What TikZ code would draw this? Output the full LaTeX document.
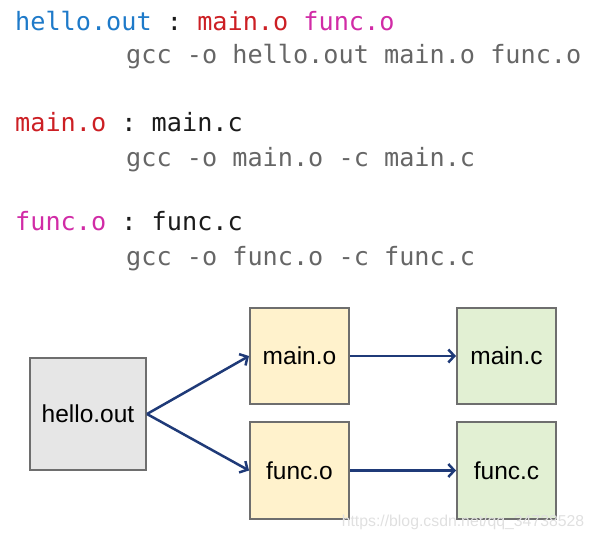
\documentclass[tikz,border=0pt]{standalone}
\usepackage{fontspec}
\setmainfont{Liberation Sans}
\newfontfamily\codefont{DejaVu Sans Mono}
\usetikzlibrary{arrows.meta}
\frenchspacing
\definecolor{cblue}{HTML}{1E7AC9}
\definecolor{cred}{HTML}{CC1F24}
\definecolor{cmag}{HTML}{D12BA6}
\definecolor{cgray}{HTML}{666666}
\definecolor{ctext}{HTML}{1A1A1A}
\definecolor{boxgray}{HTML}{E6E6E6}
\definecolor{boxyellow}{HTML}{FFF2CC}
\definecolor{boxgreen}{HTML}{E2F0D3}
\definecolor{boxline}{HTML}{6E6E6E}
\definecolor{arrowc}{HTML}{1F3A78}
\begin{document}
\begin{tikzpicture}[x=1pt,y=-1pt,
  codeline/.style={anchor=base west,inner sep=0pt,font=\codefont\fontsize{25.2}{30}\selectfont\frenchspacing,text=ctext},
  filebox/.style={draw=boxline,line width=2pt,inner sep=0pt,font=\fontsize{24.5}{29}\selectfont,text=black},
  dep/.style={draw=arrowc,line width=2.5pt,-{Straight Barb[length=6pt,width=13pt,line width=2.5pt]}},
  wm/.style={anchor=center,inner sep=0pt,font=\fontsize{15.8}{19}\selectfont,text=black!12}
]
\useasboundingbox (0,0) rectangle (594,540);
% code text
\node[codeline] (l1) at (15,31) {\textcolor{cblue}{hello.out} : \textcolor{cred}{main.o} \textcolor{cmag}{func.o}};
\node[codeline,text=cgray] (l2) at (126,64) {gcc -o hello.out main.o func.o};
\node[codeline] (l3) at (15,132) {\textcolor{cred}{main.o} : main.c};
\node[codeline,text=cgray] (l4) at (126,167) {gcc -o main.o -c main.c};
\node[codeline] (l5) at (15,230) {\textcolor{cmag}{func.o} : func.c};
\node[codeline,text=cgray] (l6) at (126,265) {gcc -o func.o -c func.c};
% boxes
\node[filebox,fill=boxgray,minimum width=116pt,minimum height=112pt] (hello) at (88,414) {hello.out};
\node[filebox,fill=boxyellow,minimum width=99pt,minimum height=96pt] (maino) at (299.5,356) {main.o};
\node[filebox,fill=boxyellow,minimum width=99pt,minimum height=97pt] (funco) at (299.5,470.5) {func.o};
\node[filebox,fill=boxgreen,minimum width=99pt,minimum height=96pt] (mainc) at (506.5,356) {main.c};
\node[filebox,fill=boxgreen,minimum width=99pt,minimum height=97pt] (funcc) at (506.5,470.5) {func.c};
% arrows
\draw[dep] (hello.east) -- (maino.west);
\draw[dep] (hello.east) -- (funco.west);
\draw[dep] (maino.east) -- (mainc.west);
\draw[dep] (funco.east) -- (funcc.west);
% watermark
\node[wm] (mark) at (463,522) {https://blog.csdn.net/qq\_34738528};
\end{tikzpicture}
\end{document}
